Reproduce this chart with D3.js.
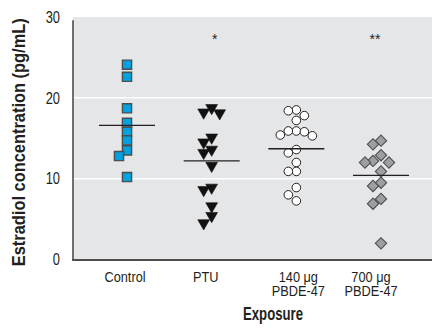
<!DOCTYPE html>
<html>
<head>
<meta charset="utf-8">
<script src="https://cdn.jsdelivr.net/npm/d3@7"></script>
<style>
  html, body { margin: 0; padding: 0; background: #ffffff; }
  svg { display: block; }
  text { font-family: "Liberation Sans", Arial, sans-serif; }
</style>
</head>
<body>
<svg id="chart" width="432" height="329"></svg>
<script>
// ---- data ----
const categories = ["Control", "PTU", "140 μg PBDE-47", "700 μg PBDE-47"];
const categoryLines = [["Control"], ["PTU"], ["140 μg", "PBDE-47"], ["700 μg", "PBDE-47"]];
const controlValues = [24.1, 22.6, 18.7, 16.9, 15.8, 14.75, 13.5, 12.8, 10.2];
const ptuValues = [18.75, 18.2, 18.1, 15.1, 14.5, 13.6, 13.2, 11.6, 8.9, 8.6, 6.6, 5.4, 4.5];
const pbde140Values = [18.5, 18.4, 17.8, 17.2, 15.9, 15.9, 15.8, 15.4, 15.3, 13.6, 13.2, 12.0, 10.9, 10.9, 8.9, 8.0, 7.25];
const pbde700Values = [14.7, 14.25, 12.9, 12.2, 12.0, 12.0, 10.9, 9.5, 9.1, 7.5, 6.9, 2.0];
const groupMeans = [16.6, 12.2, 13.7, 10.4];
const significance = ["", "*", "", "**"];
const yTicks = [0, 10, 20, 30];
const yTitle = "Estradiol concentration (pg/mL)";
const xTitle = "Exposure";

const groups = [controlValues, ptuValues, pbde140Values, pbde700Values];

// ---- layout ----
const svg = d3.select("#chart");
const plot = { left: 73, right: 432, top: 17, bottom: 259.5 };
const ink = "#231f20";

const x = d3.scalePoint().domain(categories).range([127, 381]);
const y = d3.scaleLinear().domain([0, 30]).range([plot.bottom, plot.top]);

// condensed text helper: compress natural width to look like a narrow face
function narrow(sel, ratio) {
  sel.each(function () {
    const w = this.getComputedTextLength();
    d3.select(this).attr("textLength", w * ratio).attr("lengthAdjust", "spacingAndGlyphs");
  });
}

// background
svg.append("rect")
  .attr("x", plot.left).attr("y", plot.top)
  .attr("width", plot.right - plot.left).attr("height", plot.bottom - plot.top)
  .attr("fill", "#e5e6e8");

// grid lines
svg.append("g").selectAll("line")
  .data(yTicks.filter(t => t > 0 && t < 30))
  .join("line")
  .attr("x1", plot.left).attr("x2", plot.right)
  .attr("y1", d => y(d)).attr("y2", d => y(d))
  .attr("stroke", "#ffffff").attr("stroke-width", 1.5);

// y axis
const yAxis = d3.axisLeft(y).tickValues(yTicks).tickSize(0).tickPadding(13).tickFormat(d3.format("d"));
const gy = svg.append("g").attr("transform", `translate(${plot.left},0)`).call(yAxis);
gy.select(".domain").remove();
gy.selectAll("text").attr("font-size", 16.5).attr("fill", ink)
  .attr("font-family", '"Liberation Sans", Arial, sans-serif');
narrow(gy.selectAll("text"), 0.78);
svg.append("line")
  .attr("x1", plot.left).attr("x2", plot.left)
  .attr("y1", y(29.6)).attr("y2", plot.bottom + 1)
  .attr("stroke", "#4d4d4f").attr("stroke-width", 1.6);

// x axis line
svg.append("line")
  .attr("x1", plot.left - 0.8).attr("x2", plot.right)
  .attr("y1", plot.bottom + 0.5).attr("y2", plot.bottom + 0.5)
  .attr("stroke", "#4d4d4f").attr("stroke-width", 2);

// category labels
const labelShift = [-2, -6, 2, -10];
const xl = svg.append("g");
categories.forEach((c, i) => {
  categoryLines[i].forEach((ln, j) => {
    xl.append("text")
      .attr("x", x(c) + labelShift[i]).attr("y", 281.5 + j * 14)
      .attr("text-anchor", "middle").attr("font-size", 14.5).attr("fill", ink)
      .text(ln);
  });
});
narrow(xl.selectAll("text"), 0.88);

// titles
svg.append("text")
  .attr("transform", `translate(25,${(plot.top + plot.bottom) / 2 + 4}) rotate(-90)`)
  .attr("text-anchor", "middle").attr("font-size", 17.5).attr("font-weight", "bold")
  .attr("fill", ink).text(yTitle)
  .attr("textLength", 248).attr("lengthAdjust", "spacingAndGlyphs");
svg.append("text")
  .attr("x", 273).attr("y", 320)
  .attr("text-anchor", "middle").attr("font-size", 18).attr("font-weight", "bold")
  .attr("fill", ink).text(xTitle)
  .attr("textLength", 60).attr("lengthAdjust", "spacingAndGlyphs");

// dodge: place markers so that they do not fully overlap
function dodge(values, minDist, step) {
  const placed = [];
  const sorted = values.map((v, i) => ({ v, i })).sort((a, b) => b.v - a.v);
  const cands = [0, -step, step, -2 * step, 2 * step];
  sorted.forEach(p => {
    const py = y(p.v);
    for (const dx of cands) {
      const ok = placed.every(q => Math.hypot(q.dx - dx, q.py - py) >= minDist);
      if (ok) { placed.push({ v: p.v, py, dx }); return; }
    }
    placed.push({ v: p.v, py, dx: 0 });
  });
  return placed;
}

const styles = [
  { shape: d3.symbolSquare, size: 84, fill: "#00a3e0", stroke: "#4d4d4f", sw: 1.4 },
  { shape: d3.symbolTriangle, size: 60, fill: "#111111", stroke: "#111111", sw: 0.6, rot: 180 },
  { shape: d3.symbolCircle, size: 58, fill: "#ffffff", stroke: ink, sw: 1 },
  { shape: d3.symbolDiamond, size: 64, fill: "#9d9fa2", stroke: "#4d4d4f", sw: 1.1 }
];

groups.forEach((vals, gi) => {
  const st = styles[gi];
  const cx = x(categories[gi]);
  const pts = dodge(vals, 7.5, 8);
  let path = d3.symbol().type(st.shape).size(st.size)();
  if (st.shape === d3.symbolDiamond) {
    path = d3.symbol().type(d3.symbolSquare).size(st.size)();
  }
  svg.append("g").selectAll("path")
    .data(pts)
    .join("path")
    .attr("d", path)
    .attr("transform", d => {
      let tr = `translate(${cx + d.dx},${d.py})`;
      if (st.rot) tr += ` rotate(${st.rot})`;
      if (st.shape === d3.symbolDiamond) tr += " rotate(45)";
      return tr;
    })
    .attr("fill", st.fill).attr("stroke", st.stroke).attr("stroke-width", st.sw);

  // mean line
  svg.append("line")
    .attr("x1", cx - 28).attr("x2", cx + 28)
    .attr("y1", y(groupMeans[gi])).attr("y2", y(groupMeans[gi]))
    .attr("stroke", ink).attr("stroke-width", 1.3);

  // significance
  if (significance[gi]) {
    svg.append("text")
      .attr("x", cx + (gi === 1 ? 3 : -6)).attr("y", 44)
      .attr("text-anchor", "middle").attr("font-size", 14).attr("fill", ink)
      .text(significance[gi]);
  }
});
</script>
</body>
</html>
